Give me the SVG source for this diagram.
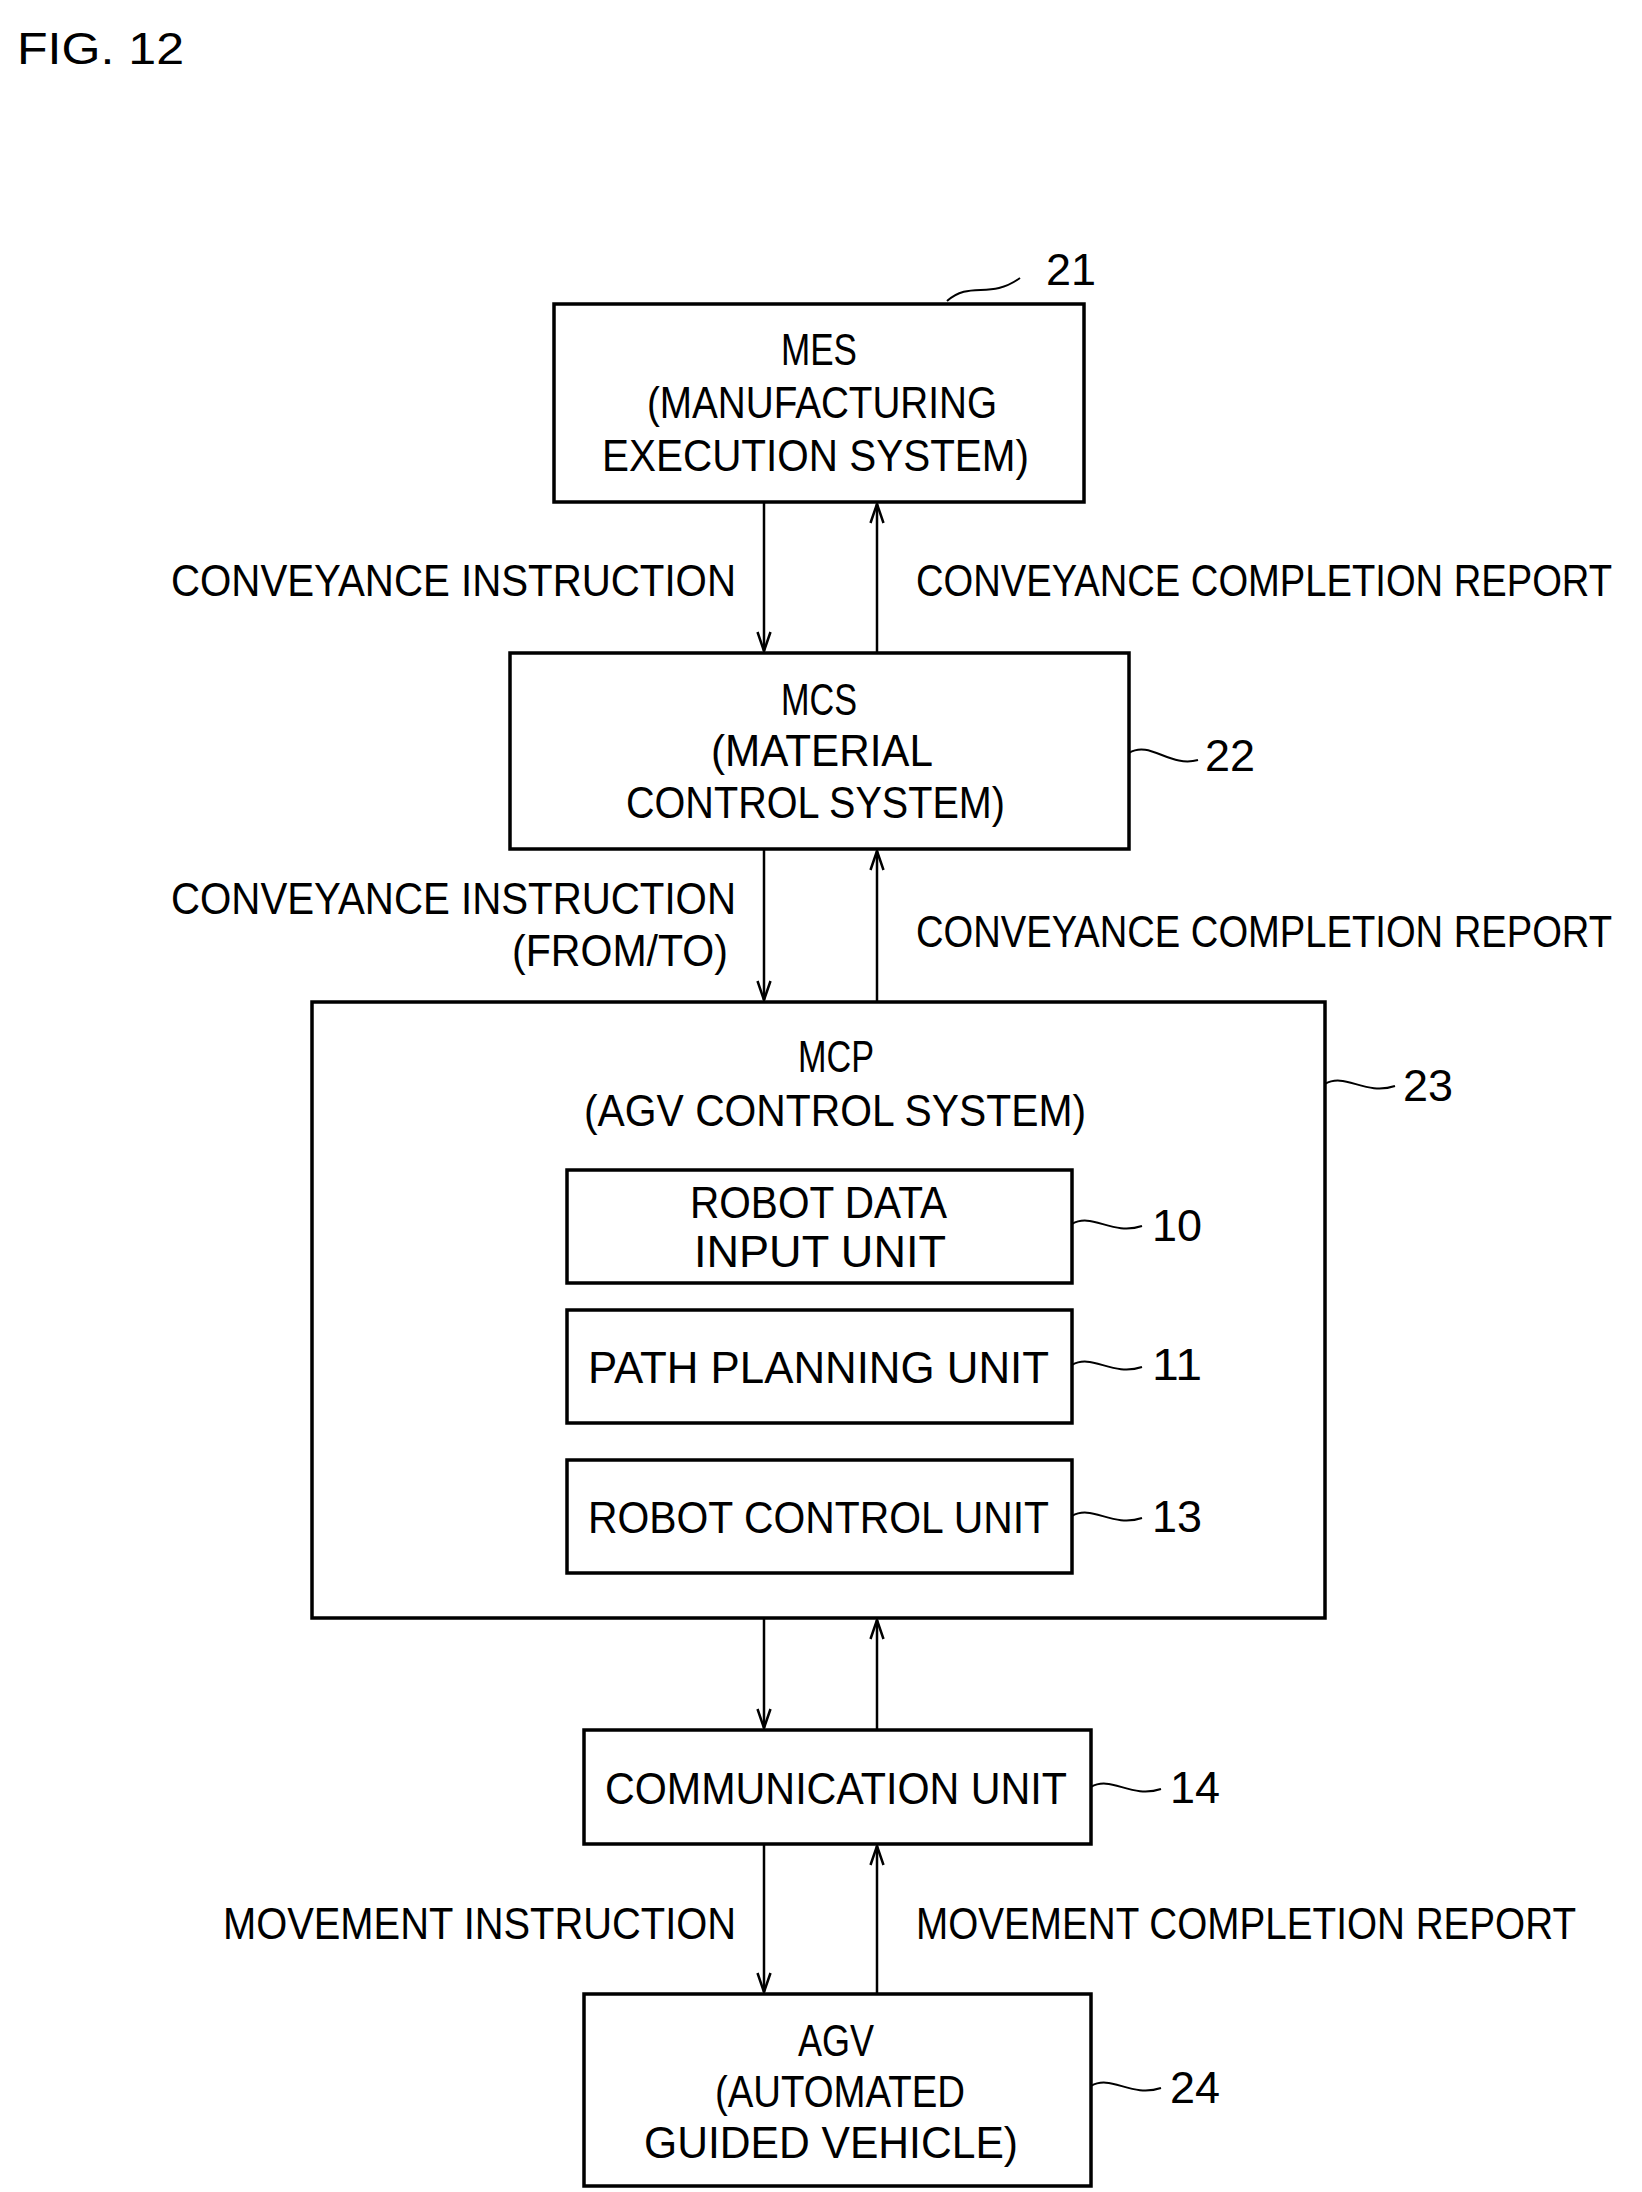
<svg xmlns="http://www.w3.org/2000/svg" width="1642" height="2192" viewBox="0 0 1642 2192">
<style>
rect{fill:#fff;stroke:#000;stroke-width:3.5}
text{font-family:"Liberation Sans",Arial,sans-serif;font-size:44px;fill:#000}
.c line{stroke:#000;stroke-width:2.5}
.l{fill:none;stroke:#000;stroke-width:2}
</style>
<defs>
<marker id="a" markerWidth="22" markerHeight="16" refX="20" refY="8" orient="auto" markerUnits="userSpaceOnUse" viewBox="0 0 22 16"><polyline points="1,1.5 20,8 1,14.5" fill="none" stroke="#000" stroke-width="2.5"/></marker>
</defs>
<text x="17" y="64" textLength="167" lengthAdjust="spacingAndGlyphs">FIG. 12</text>
<g class="c">
<line x1="764" y1="502" x2="764" y2="651" marker-end="url(#a)"/>
<line x1="877" y1="653" x2="877" y2="504" marker-end="url(#a)"/>
<line x1="764" y1="849" x2="764" y2="1000" marker-end="url(#a)"/>
<line x1="877" y1="1002" x2="877" y2="851" marker-end="url(#a)"/>
<line x1="764" y1="1618" x2="764" y2="1728" marker-end="url(#a)"/>
<line x1="877" y1="1730" x2="877" y2="1620" marker-end="url(#a)"/>
<line x1="764" y1="1844" x2="764" y2="1992" marker-end="url(#a)"/>
<line x1="877" y1="1994" x2="877" y2="1846" marker-end="url(#a)"/>
<text x="171" y="596" textLength="565" lengthAdjust="spacingAndGlyphs">CONVEYANCE INSTRUCTION</text>
<text x="916" y="596" textLength="696" lengthAdjust="spacingAndGlyphs">CONVEYANCE COMPLETION REPORT</text>
<text x="171" y="914" textLength="565" lengthAdjust="spacingAndGlyphs">CONVEYANCE INSTRUCTION</text>
<text x="512" y="966" textLength="216" lengthAdjust="spacingAndGlyphs">(FROM/TO)</text>
<text x="916" y="947" textLength="696" lengthAdjust="spacingAndGlyphs">CONVEYANCE COMPLETION REPORT</text>
<text x="223" y="1939" textLength="513" lengthAdjust="spacingAndGlyphs">MOVEMENT INSTRUCTION</text>
<text x="916" y="1939" textLength="660" lengthAdjust="spacingAndGlyphs">MOVEMENT COMPLETION REPORT</text>
</g>
<g id="mes">
<rect x="554" y="304" width="530" height="198"/>
<text x="781" y="365" textLength="76" lengthAdjust="spacingAndGlyphs">MES</text>
<text x="647" y="418" textLength="350" lengthAdjust="spacingAndGlyphs">(MANUFACTURING</text>
<text x="602" y="471" textLength="427" lengthAdjust="spacingAndGlyphs">EXECUTION SYSTEM)</text>
<path class="l" d="M947,301 C970,280 990,300 1020,278"/>
<text x="1046" y="285" textLength="50" lengthAdjust="spacingAndGlyphs">21</text>
</g>
<g id="mcs">
<rect x="510" y="653" width="619" height="196"/>
<text x="781" y="715" textLength="76" lengthAdjust="spacingAndGlyphs">MCS</text>
<text x="711" y="766" textLength="222" lengthAdjust="spacingAndGlyphs">(MATERIAL</text>
<text x="626" y="818" textLength="379" lengthAdjust="spacingAndGlyphs">CONTROL SYSTEM)</text>
<path class="l" d="M1129,753 C1150,740 1170,768 1198,760"/>
<text x="1205" y="771" textLength="50" lengthAdjust="spacingAndGlyphs">22</text>
</g>
<g id="mcp">
<rect x="312" y="1002" width="1013" height="616"/>
<text x="798" y="1072" textLength="76" lengthAdjust="spacingAndGlyphs">MCP</text>
<text x="584" y="1126" textLength="502" lengthAdjust="spacingAndGlyphs">(AGV CONTROL SYSTEM)</text>
<path class="l" d="M1325,1084 C1345,1072 1365,1096 1395,1086"/>
<text x="1403" y="1101" textLength="50" lengthAdjust="spacingAndGlyphs">23</text>
</g>
<g id="rdi">
<rect x="567" y="1170" width="505" height="113"/>
<text x="690" y="1218" textLength="257" lengthAdjust="spacingAndGlyphs">ROBOT DATA</text>
<text x="694" y="1267" textLength="252" lengthAdjust="spacingAndGlyphs">INPUT UNIT</text>
<path class="l" d="M1072,1224 C1092,1212 1112,1236 1142,1226"/>
<text x="1152" y="1241" textLength="50" lengthAdjust="spacingAndGlyphs">10</text>
</g>
<g id="ppu">
<rect x="567" y="1310" width="505" height="113"/>
<text x="588" y="1383" textLength="461" lengthAdjust="spacingAndGlyphs">PATH PLANNING UNIT</text>
<path class="l" d="M1072,1365 C1092,1353 1112,1377 1142,1367"/>
<text x="1152" y="1380" textLength="50" lengthAdjust="spacingAndGlyphs">11</text>
</g>
<g id="rcu">
<rect x="567" y="1460" width="505" height="113"/>
<text x="588" y="1533" textLength="461" lengthAdjust="spacingAndGlyphs">ROBOT CONTROL UNIT</text>
<path class="l" d="M1072,1516 C1092,1504 1112,1528 1142,1518"/>
<text x="1152" y="1532" textLength="50" lengthAdjust="spacingAndGlyphs">13</text>
</g>
<g id="comm">
<rect x="584" y="1730" width="507" height="114"/>
<text x="605" y="1804" textLength="462" lengthAdjust="spacingAndGlyphs">COMMUNICATION UNIT</text>
<path class="l" d="M1091,1787 C1111,1775 1131,1799 1161,1789"/>
<text x="1170" y="1803" textLength="50" lengthAdjust="spacingAndGlyphs">14</text>
</g>
<g id="agv">
<rect x="584" y="1994" width="507" height="192"/>
<text x="798" y="2056" textLength="76" lengthAdjust="spacingAndGlyphs">AGV</text>
<text x="715" y="2107" textLength="250" lengthAdjust="spacingAndGlyphs">(AUTOMATED</text>
<text x="644" y="2158" textLength="374" lengthAdjust="spacingAndGlyphs">GUIDED VEHICLE)</text>
<path class="l" d="M1091,2086 C1111,2074 1131,2098 1161,2088"/>
<text x="1170" y="2103" textLength="50" lengthAdjust="spacingAndGlyphs">24</text>
</g>
</svg>
